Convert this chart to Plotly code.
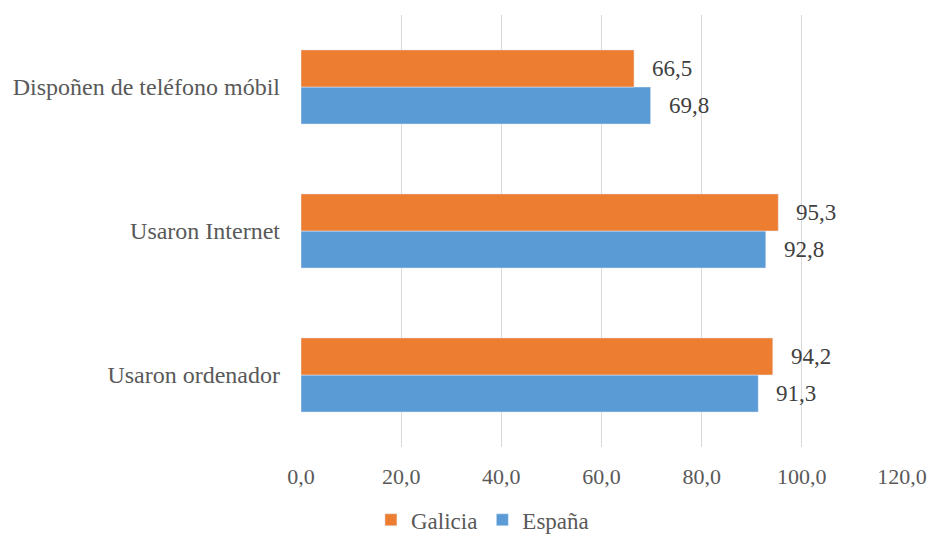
import plotly.graph_objects as go

categories = ["Usaron ordenador", "Usaron Internet", "Dispoñen de teléfono móbil"]
galicia = [94.2, 95.3, 66.5]
espana = [91.3, 92.8, 69.8]
x_ticks = [0, 20, 40, 60, 80, 100, 120]

ORANGE = "#ED7D31"
BLUE = "#5B9BD5"
TXT = "#595959"
FONT = "Liberation Serif, Times New Roman, DejaVu Serif, serif"

fig = go.Figure()
fig.add_trace(go.Bar(y=categories, x=espana, orientation="h", name="España",
                     marker=dict(color=BLUE), legendrank=2))
fig.add_trace(go.Bar(y=categories, x=galicia, orientation="h", name="Galicia",
                     marker=dict(color=ORANGE), legendrank=1))

annotations = []
for c, g, e in zip(categories, galicia, espana):
    annotations.append(dict(x=g, y=c, xref="x", yref="y", text=f"{g:.1f}".replace(".", ","),
                            showarrow=False, xanchor="left", xshift=16, yshift=18.5,
                            font=dict(family=FONT, size=23, color="#404040")))
    annotations.append(dict(x=e, y=c, xref="x", yref="y", text=f"{e:.1f}".replace(".", ","),
                            showarrow=False, xanchor="left", xshift=16, yshift=-18.5,
                            font=dict(family=FONT, size=23, color="#404040")))

fig.update_layout(
    width=932, height=537,
    margin=dict(l=301, r=30, t=15, b=90, autoexpand=False),
    barmode="group", bargap=0.485, bargroupgap=0,
    plot_bgcolor="white", paper_bgcolor="white",
    separators=",.",
    font=dict(family=FONT, color=TXT, size=22),
    xaxis=dict(range=[0, 120], tickvals=x_ticks, tickformat=".1f",
               showgrid=True, gridcolor="#D9D9D9", gridwidth=1.3,
               zeroline=False, showline=False, ticks="", automargin=False,
               ticklabelstandoff=14,
               tickfont=dict(family=FONT, size=22, color=TXT)),
    yaxis=dict(showgrid=False, showline=False, ticks="", automargin=False,
               tickfont=dict(family=FONT, size=24, color=TXT), ticklabelstandoff=20),
    legend=dict(orientation="h", xref="container", yref="container",
                x=0.398, xanchor="left", y=0.032, yanchor="middle",
                font=dict(family=FONT, size=23, color=TXT), itemwidth=30, tracegroupgap=0),
    annotations=annotations,
    showlegend=True,
)

fig.write_html("out.html", config={"displayModeBar": False},
               post_script="document.body.style.margin='0';document.body.style.padding='0';")
